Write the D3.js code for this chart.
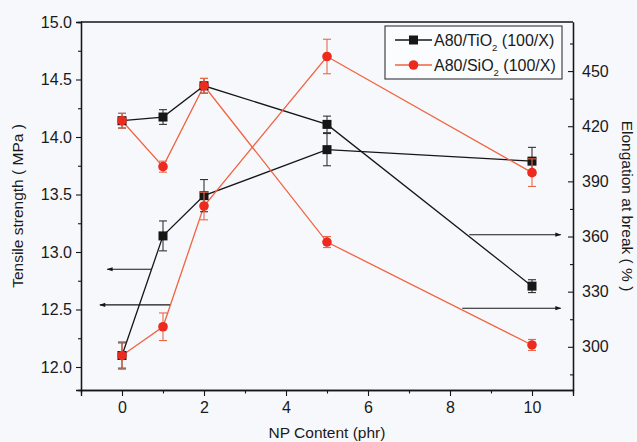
<!DOCTYPE html>
<html>
<head>
<meta charset="utf-8">
<script src="https://cdn.jsdelivr.net/npm/d3@7"></script>
<style>
  html, body { margin: 0; padding: 0; background: #f7f8fc; }
  text { font-family: "Liberation Sans", Arial, sans-serif; fill: #1a1a1a; }
</style>
</head>
<body>
<div id="chart"></div>
<script>
// Valores
const npContent = [0, 1, 2, 5, 10];

const tensileTiO2 = [12.10, 13.14, 13.49, 13.89, 13.79];
const tensileTiO2Err = [0.11, 0.13, 0.14, 0.14, 0.12];
const tensileSiO2 = [12.10, 12.35, 13.40, 14.70, 13.69];
const tensileSiO2Err = [0.12, 0.12, 0.12, 0.15, 0.12];

const elongTiO2 = [423, 425, 442, 421, 333];
const elongTiO2Err = [4, 4, 4, 4.5, 3.5];
const elongSiO2 = [423, 398, 442, 357, 301];
const elongSiO2Err = [4, 3, 4, 3, 3];

const xTicks = [0, 2, 4, 6, 8, 10];
const leftTicks = [12.0, 12.5, 13.0, 13.5, 14.0, 14.5, 15.0];
const rightTicks = [300, 330, 360, 390, 420, 450];

const legendLabels = [["A80/TiO", "2", " (100/X)"], ["A80/SiO", "2", " (100/X)"]];

// flechas que indican a qué eje pertenece cada curva: [x0, x1, y]
const leftArrows = [[0.73, -0.36, 12.85], [1.17, -0.54, 12.54]];
const rightArrows = [[8.47, 10.70, 361], [8.30, 10.70, 321]];

const width = 637, height = 442;
const margin = { top: 22, right: 64, bottom: 52, left: 81 };
const w = width - margin.left - margin.right;
const h = height - margin.top - margin.bottom;

const BLACK = "#161616";
const RED_LINE = "#f2633f";
const RED_MARK = "#ec2a1d";

const svg = d3.select("#chart").append("svg")
    .attr("width", width)
    .attr("height", height);

svg.append("defs").append("marker")
    .attr("id", "arrow")
    .attr("viewBox", "0 0 10 10")
    .attr("refX", 9).attr("refY", 5)
    .attr("markerWidth", 8).attr("markerHeight", 6)
    .attr("markerUnits", "userSpaceOnUse")
    .attr("orient", "auto")
    .append("path").attr("d", "M0,1.5L10,5L0,8.5Z").attr("fill", BLACK);

const g = svg.append("g").attr("transform", `translate(${margin.left},${margin.top})`);

const x = d3.scaleLinear().domain([-1, 11]).range([0, w]);
const yL = d3.scaleLinear().domain([11.8, 15.0]).range([h, 0]);
const yR = d3.scaleLinear().domain([276.5, 476.7]).range([h, 0]);

// Ejes
g.append("g").attr("transform", `translate(0,${h})`)
    .call(d3.axisBottom(x).tickValues(xTicks).tickSize(6).tickPadding(6).tickFormat(d3.format("d")));
g.append("g").attr("transform", `translate(0,${h})`)
    .call(d3.axisBottom(x).tickValues([1, 3, 5, 7, 9]).tickSize(3.5).tickFormat(""));

g.append("g")
    .call(d3.axisLeft(yL).tickValues(leftTicks).tickSize(5).tickPadding(4).tickFormat(d3.format(".1f")));
g.append("g")
    .call(d3.axisLeft(yL).tickValues([12.25, 12.75, 13.25, 13.75, 14.25, 14.75]).tickSize(3).tickFormat(""));

g.append("g").attr("transform", `translate(${w},0)`)
    .call(d3.axisRight(yR).tickValues(rightTicks).tickSizeInner(-5).tickSizeOuter(0).tickPadding(9));
g.append("g").attr("transform", `translate(${w},0)`)
    .call(d3.axisRight(yR).tickValues([285, 315, 345, 375, 405, 435, 465]).tickSizeInner(-3).tickSizeOuter(0).tickFormat(""));

// Línea superior del marco
g.append("line").attr("x1", 0).attr("x2", w).attr("y1", 0).attr("y2", 0)
    .attr("stroke", BLACK).attr("stroke-width", 1.3);

g.selectAll(".domain").attr("stroke", BLACK).attr("stroke-width", 1.3);
g.selectAll(".tick line").attr("stroke", BLACK).attr("stroke-width", 1.1);
g.selectAll(".tick text").style("font-size", "16px").style("fill", "#1a1a1a");

// Títulos de ejes
svg.append("text")
    .attr("text-anchor", "middle")
    .attr("x", margin.left + x(5))
    .attr("y", 438)
    .style("font-size", "15.5px")
    .text("NP Content (phr)");

svg.append("text")
    .attr("text-anchor", "middle")
    .attr("transform", `translate(23,${margin.top + h / 2}) rotate(-90)`)
    .style("font-size", "15.5px")
    .text("Tensile strength ( MPa )");

svg.append("text")
    .attr("text-anchor", "middle")
    .attr("transform", `translate(622,${margin.top + h / 2}) rotate(90)`)
    .style("font-size", "15.5px")
    .text("Elongation at break ( % )");

// Series
const series = [
    { vals: tensileTiO2, err: tensileTiO2Err, y: yL, line: BLACK, mark: BLACK, errColor: "#333", shape: "square" },
    { vals: elongTiO2, err: elongTiO2Err, y: yR, line: BLACK, mark: BLACK, errColor: "#333", shape: "square" },
    { vals: tensileSiO2, err: tensileSiO2Err, y: yL, line: RED_LINE, mark: RED_MARK, errColor: "#e86a48", shape: "circle" },
    { vals: elongSiO2, err: elongSiO2Err, y: yR, line: RED_LINE, mark: RED_MARK, errColor: "#e86a48", shape: "circle" }
];

series.forEach(s => {
    const pts = npContent.map((c, i) => ({ c, v: s.vals[i], e: s.err[i] }));
    g.append("path").datum(pts)
        .attr("fill", "none")
        .attr("stroke", s.line)
        .attr("stroke-width", 1.3)
        .attr("d", d3.line().x(d => x(d.c)).y(d => s.y(d.v)));
});

series.forEach(s => {
    const pts = npContent.map((c, i) => ({ c, v: s.vals[i], e: s.err[i] }));
    const eb = g.append("g").attr("stroke", s.errColor).attr("stroke-width", 1.1);
    eb.selectAll(".v").data(pts).enter().append("line")
        .attr("x1", d => x(d.c)).attr("x2", d => x(d.c))
        .attr("y1", d => s.y(d.v - d.e)).attr("y2", d => s.y(d.v + d.e));
    [-1, 1].forEach(sign => {
        eb.selectAll(".cap").data(pts).enter().append("line")
            .attr("x1", d => x(d.c) - 4).attr("x2", d => x(d.c) + 4)
            .attr("y1", d => s.y(d.v + sign * d.e)).attr("y2", d => s.y(d.v + sign * d.e));
    });
    if (s.shape === "square") {
        g.selectAll(null).data(pts).enter().append("rect")
            .attr("x", d => x(d.c) - 4.5).attr("y", d => s.y(d.v) - 4.5)
            .attr("width", 9).attr("height", 9)
            .attr("fill", s.mark);
    } else {
        g.selectAll(null).data(pts).enter().append("circle")
            .attr("cx", d => x(d.c)).attr("cy", d => s.y(d.v))
            .attr("r", 4.8)
            .attr("fill", s.mark);
    }
});

// Flechas
leftArrows.forEach(a => {
    g.append("line")
        .attr("x1", x(a[0])).attr("x2", x(a[1]))
        .attr("y1", yL(a[2])).attr("y2", yL(a[2]))
        .attr("stroke", BLACK).attr("stroke-width", 1.1)
        .attr("marker-end", "url(#arrow)");
});
rightArrows.forEach(a => {
    g.append("line")
        .attr("x1", x(a[0])).attr("x2", x(a[1]))
        .attr("y1", yR(a[2])).attr("y2", yR(a[2]))
        .attr("stroke", BLACK).attr("stroke-width", 1.1)
        .attr("marker-end", "url(#arrow)");
});

// Leyenda
const legend = svg.append("g").attr("transform", "translate(385,26)");
legend.append("rect")
    .attr("width", 177).attr("height", 53)
    .attr("fill", "#fbfcfe")
    .attr("stroke", "#333").attr("stroke-width", 1.1);

const legendRows = legend.selectAll(".row")
    .data([{ s: series[0], lab: legendLabels[0] }, { s: series[2], lab: legendLabels[1] }])
    .enter().append("g")
    .attr("transform", (d, i) => `translate(0,${14 + i * 25})`);

legendRows.append("line")
    .attr("x1", 10).attr("x2", 47).attr("y1", 0).attr("y2", 0)
    .attr("stroke", d => d.s.line).attr("stroke-width", 1.3);
legendRows.filter(d => d.s.shape === "square").append("rect")
    .attr("x", 24).attr("y", -4.5).attr("width", 9).attr("height", 9)
    .attr("fill", BLACK);
legendRows.filter(d => d.s.shape === "circle").append("circle")
    .attr("cx", 28.5).attr("cy", 0).attr("r", 4.8)
    .attr("fill", RED_MARK);

const lt = legendRows.append("text")
    .attr("x", 49).attr("y", 5.5)
    .style("font-size", "16px");
lt.append("tspan").text(d => d.lab[0]);
lt.append("tspan").attr("dy", 5).style("font-size", "9.5px").text(d => d.lab[1]);
lt.append("tspan").attr("dy", -5).text(d => d.lab[2]);
</script>
</body>
</html>
